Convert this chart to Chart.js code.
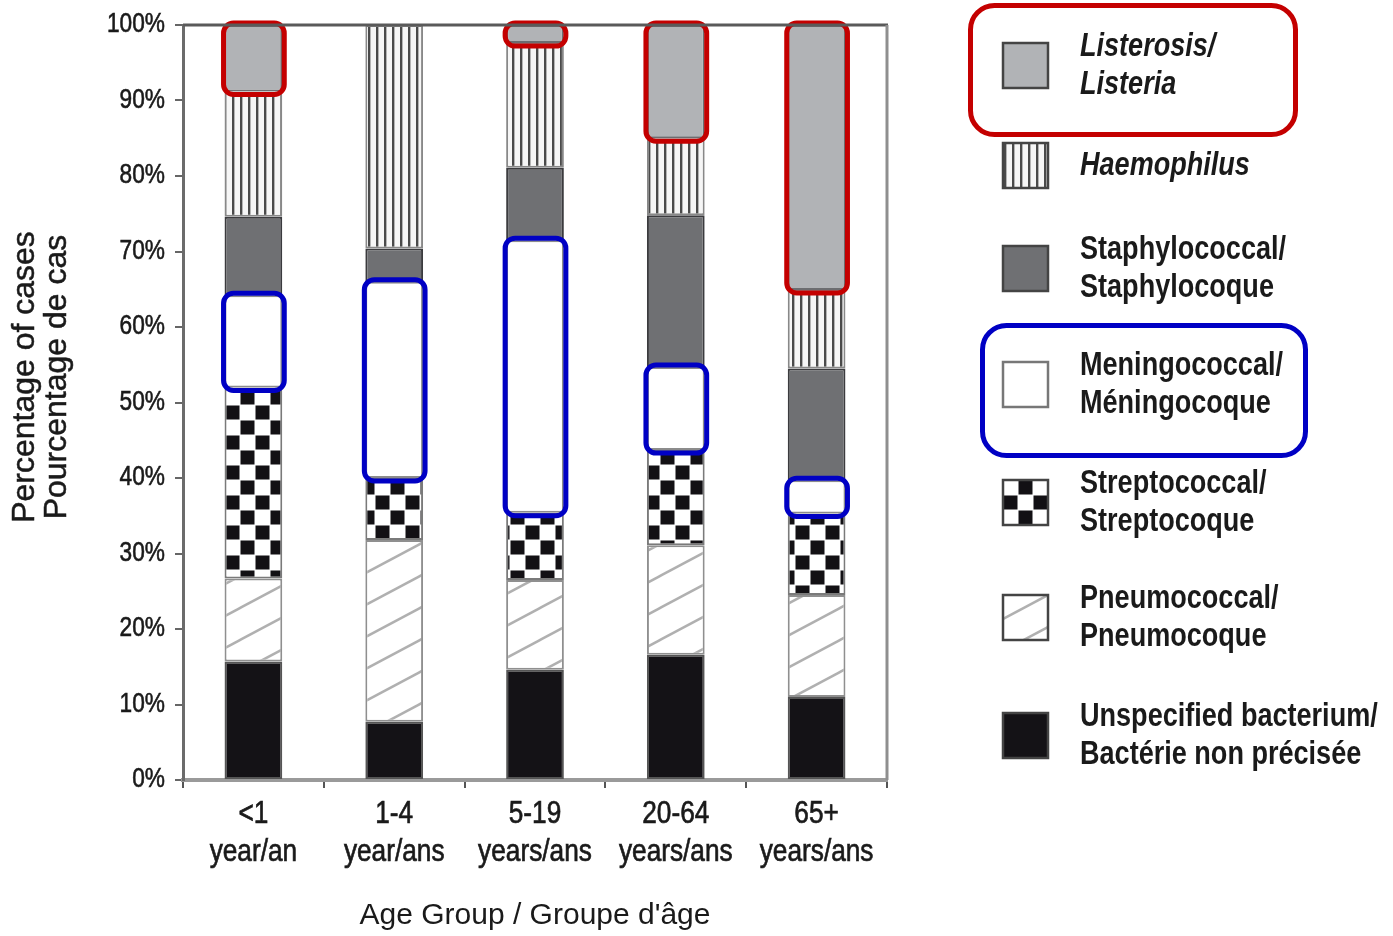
<!DOCTYPE html>
<html>
<head>
<meta charset="utf-8">
<title>Bacterial meningitis cases by age group</title>
<script src="https://cdn.jsdelivr.net/npm/chart.js@4.4.1/dist/chart.umd.min.js"></script>
<style>
  html, body { margin: 0; padding: 0; background: #fff; }
  #wrap { width: 1393px; height: 936px; }
</style>
</head>
<body>
<div id="wrap"><canvas id="chart" width="1393" height="936"></canvas></div>
<script>
// categories and tick labels
var ageGroups = [['<1', 'year/an'], ['1-4', 'year/ans'], ['5-19', 'years/ans'], ['20-64', 'years/ans'], ['65+', 'years/ans']];
var yTickLabels = ['0%', '10%', '20%', '30%', '40%', '50%', '60%', '70%', '80%', '90%', '100%'];

// percentage of cases, bottom of the stack first
var unspecified    = [15.7, 7.7, 14.6, 16.6, 11.0];
var pneumococcal   = [11.0, 24.1, 11.9, 14.5, 13.5];
var streptococcal  = [25.3, 8.2, 8.9, 12.6, 10.8];
var meningococcal  = [12.2, 26.0, 36.1, 11.0, 4.4];
var staphylococcal = [10.4, 4.4, 9.6, 20.1, 14.8];
var haemophilus    = [16.6, 29.6, 16.5, 10.2, 10.4];
var listeria       = [8.8, 0, 2.4, 15.0, 35.1];

// fill patterns
function makePattern(kind) {
  var c = document.createElement('canvas');
  var g = c.getContext('2d');
  if (kind === 'stripes') {
    c.width = 8; c.height = 8;
    g.fillStyle = '#f6f6f6'; g.fillRect(0, 0, 8, 8);
    g.fillStyle = '#4a4a4a'; g.fillRect(0, 0, 2, 8);
    g.fillStyle = '#b4b4b4'; g.fillRect(2, 0, 1, 8);
  } else if (kind === 'checker') {
    c.width = 30; c.height = 30;
    g.fillStyle = '#ffffff'; g.fillRect(0, 0, 30, 30);
    g.fillStyle = '#121014';
    g.fillRect(0.5, 0.5, 14, 14);
    g.fillRect(15.5, 15.5, 14, 14);
  } else if (kind === 'diagonal') {
    c.width = 60; c.height = 32;
    g.fillStyle = '#ffffff'; g.fillRect(0, 0, 60, 32);
    g.strokeStyle = '#b0b0b0'; g.lineWidth = 2.5;
    for (var k = -1; k <= 1; k++) {
      g.beginPath();
      g.moveTo(-10, 32 + k * 32 + 10 * 32 / 60);
      g.lineTo(70, k * 32 - 10 * 32 / 60);
      g.stroke();
    }
  }
  var p = document.createElement('canvas').getContext('2d');
  return p.createPattern(c, 'repeat');
}

var fills = {
  listeria: '#b1b3b6',
  haemophilus: makePattern('stripes'),
  staphylococcal: '#6f7073',
  meningococcal: '#ffffff',
  streptococcal: makePattern('checker'),
  pneumococcal: makePattern('diagonal'),
  unspecified: '#141216'
};
var borders = {
  listeria: '#6c6d70',
  haemophilus: '#888888',
  staphylococcal: '#3b3b3e',
  meningococcal: '#8c8c8c',
  streptococcal: '#7a7a7a',
  pneumococcal: '#8f8f8f',
  unspecified: '#555555'
};

function ds(key, values) {
  return {
    label: key,
    data: values,
    backgroundColor: fills[key],
    borderColor: borders[key],
    borderWidth: 2,
    borderSkipped: false
  };
}

// legend, top to bottom
var legendItems = [
  { key: 'listeria', lines: ['Listerosis/', 'Listeria'], italic: true },
  { key: 'haemophilus', lines: ['Haemophilus'], italic: true },
  { key: 'staphylococcal', lines: ['Staphylococcal/', 'Staphylocoque'] },
  { key: 'meningococcal', lines: ['Meningococcal/', 'Méningocoque'] },
  { key: 'streptococcal', lines: ['Streptococcal/', 'Streptocoque'] },
  { key: 'pneumococcal', lines: ['Pneumococcal/', 'Pneumocoque'] },
  { key: 'unspecified', lines: ['Unspecified bacterium/', 'Bactérie non précisée'] }
];
var legendRowY = [65, 165, 268, 384, 502, 617, 735];

// highlighted series: dataset index and colour
var highlights = [{ index: 6, color: '#c40000' }, { index: 3, color: '#0000c4' }];

// condensed text: Liberation Sans squeezed to the width of a narrow face
function narrowText(ctx, text, x, y, sx, heavy) {
  ctx.save();
  ctx.translate(x, y);
  ctx.scale(sx, 1);
  ctx.fillText(text, 0, 0);
  if (heavy) {
    ctx.lineWidth = heavy;
    ctx.strokeStyle = ctx.fillStyle;
    ctx.strokeText(text, 0, 0);
  }
  ctx.restore();
}

var highlightPlugin = {
  id: 'highlightBoxes',
  afterDatasetsDraw: function (chart) {
    var ctx = chart.ctx;
    ctx.save();
    ctx.lineWidth = 5;
    highlights.forEach(function (h) {
      var meta = chart.getDatasetMeta(h.index);
      meta.data.forEach(function (bar, j) {
        if (!chart.data.datasets[h.index].data[j]) return;
        var p = bar.getProps(['x', 'y', 'base', 'width'], true);
        var l = p.x - p.width / 2 - 1, r = p.x + p.width / 2 + 2;
        var t = Math.min(p.y, p.base) - 2, b = Math.max(p.y, p.base) + 3;
        ctx.strokeStyle = h.color;
        ctx.beginPath();
        ctx.roundRect(l, t, r - l, b - t, 10);
        ctx.stroke();
      });
    });
    ctx.restore();
  }
};

var axisTextPlugin = {
  id: 'axisText',
  afterDraw: function (chart) {
    var ctx = chart.ctx, a = chart.chartArea;
    var xs = chart.scales.x, ys = chart.scales.y;
    ctx.save();
    // frame: top and right edges
    ctx.lineWidth = 3;
    ctx.strokeStyle = '#5a5a5a';
    ctx.beginPath(); ctx.moveTo(a.left, a.top); ctx.lineTo(a.right + 1, a.top); ctx.stroke();
    ctx.strokeStyle = '#8f8f8f';
    ctx.beginPath(); ctx.moveTo(a.right, a.top); ctx.lineTo(a.right, a.bottom); ctx.stroke();

    ctx.fillStyle = '#1a1a1a';
    ctx.textBaseline = 'middle';

    // y tick labels
    ctx.font = '27px "Liberation Sans"';
    ctx.textAlign = 'right';
    ys.ticks.forEach(function (t, i) {
      narrowText(ctx, yTickLabels[i], ys.right - 18, ys.getPixelForTick(i), 0.84, 0.6);
    });

    // x tick labels, two lines each
    ctx.font = '32px "Liberation Sans"';
    ctx.textAlign = 'center';
    xs.ticks.forEach(function (t, i) {
      var px = xs.getPixelForTick(i);
      chart.data.labels[i].forEach(function (line, k) {
        narrowText(ctx, line, px, xs.top + 34 + k * 38, 0.82, 0.7);
      });
    });

    // y axis title, two lines
    ctx.font = '32px "Liberation Sans"';
    ctx.textAlign = 'center';
    ctx.translate(0, 377);
    ctx.rotate(-Math.PI / 2);
    narrowText(ctx, 'Percentage of cases', 0, 25, 1, 0.5);
    narrowText(ctx, 'Pourcentage de cas', 0, 57, 1, 0.5);
    ctx.restore();
  }
};

var legendPlugin = {
  id: 'sideLegend',
  afterDraw: function (chart) {
    var ctx = chart.ctx;
    ctx.save();
    // outline boxes round the highlighted entries
    ctx.lineWidth = 5;
    ctx.strokeStyle = '#c40000';
    ctx.beginPath(); ctx.roundRect(970.5, 5.5, 325, 129, 24); ctx.stroke();
    ctx.strokeStyle = '#0000c4';
    ctx.beginPath(); ctx.roundRect(982.5, 325.5, 323, 130, 24); ctx.stroke();

    legendItems.forEach(function (item, i) {
      var cy = legendRowY[i];
      var x = 1003, y = cy - 22, w = 45, h = 45;
      ctx.save();
      ctx.translate(x - 15, y);
      ctx.fillStyle = fills[item.key];
      ctx.fillRect(15, 0, w, h);
      ctx.restore();
      ctx.lineWidth = 2.5;
      ctx.strokeStyle = item.key === 'meningococcal' ? '#777' : '#444';
      ctx.strokeRect(x, y, w, h);

      ctx.fillStyle = '#1a1a1a';
      ctx.textAlign = 'left';
      ctx.textBaseline = 'alphabetic';
      ctx.font = (item.italic ? 'italic ' : '') + 'bold 33px "Liberation Sans"';
      if (item.lines.length === 1) {
        narrowText(ctx, item.lines[0], 1080, cy + 10, 0.82);
      } else {
        narrowText(ctx, item.lines[0], 1080, cy - 9, 0.82);
        narrowText(ctx, item.lines[1], 1080, cy + 29, 0.82);
      }
    });
    ctx.restore();
  }
};

var ctx = document.getElementById('chart').getContext('2d');

var chart = new Chart(ctx, {
  type: 'bar',
  data: {
    labels: ageGroups,
    datasets: [
      ds('unspecified', unspecified),
      ds('pneumococcal', pneumococcal),
      ds('streptococcal', streptococcal),
      ds('meningococcal', meningococcal),
      ds('staphylococcal', staphylococcal),
      ds('haemophilus', haemophilus),
      ds('listeria', listeria)
    ]
  },
  options: {
    responsive: false,
    animation: false,
    layout: { padding: { top: 25, right: 506, left: 0, bottom: 0 } },
    datasets: { bar: { categoryPercentage: 1, barPercentage: 0.41 } },
    plugins: {
      legend: { display: false },
      tooltip: { enabled: false }
    },
    scales: {
      x: {
        stacked: true,
        offset: true,
        grid: { display: true, offset: true, drawOnChartArea: false, drawTicks: true, tickLength: 8, color: '#555', lineWidth: 2 },
        border: { display: true, color: '#9a9a9a', width: 4 },
        ticks: { display: false, autoSkip: false },
        title: {
          display: true,
          text: "Age Group / Groupe d'âge",
          color: '#1a1a1a',
          font: { family: 'Liberation Sans', size: 30 },
          padding: { top: 0, bottom: 2 }
        },
        afterFit: function (s) { s.height = 156; }
      },
      y: {
        stacked: true,
        min: 0,
        max: 100,
        ticks: { display: false, stepSize: 10 },
        grid: { drawOnChartArea: false, drawTicks: true, tickLength: 8, color: '#666', lineWidth: 2 },
        border: { color: '#6b6b6b', width: 3 },
        afterFit: function (s) { s.width = 183; }
      }
    }
  },
  plugins: [highlightPlugin, axisTextPlugin, legendPlugin]
});
</script>
</body>
</html>
